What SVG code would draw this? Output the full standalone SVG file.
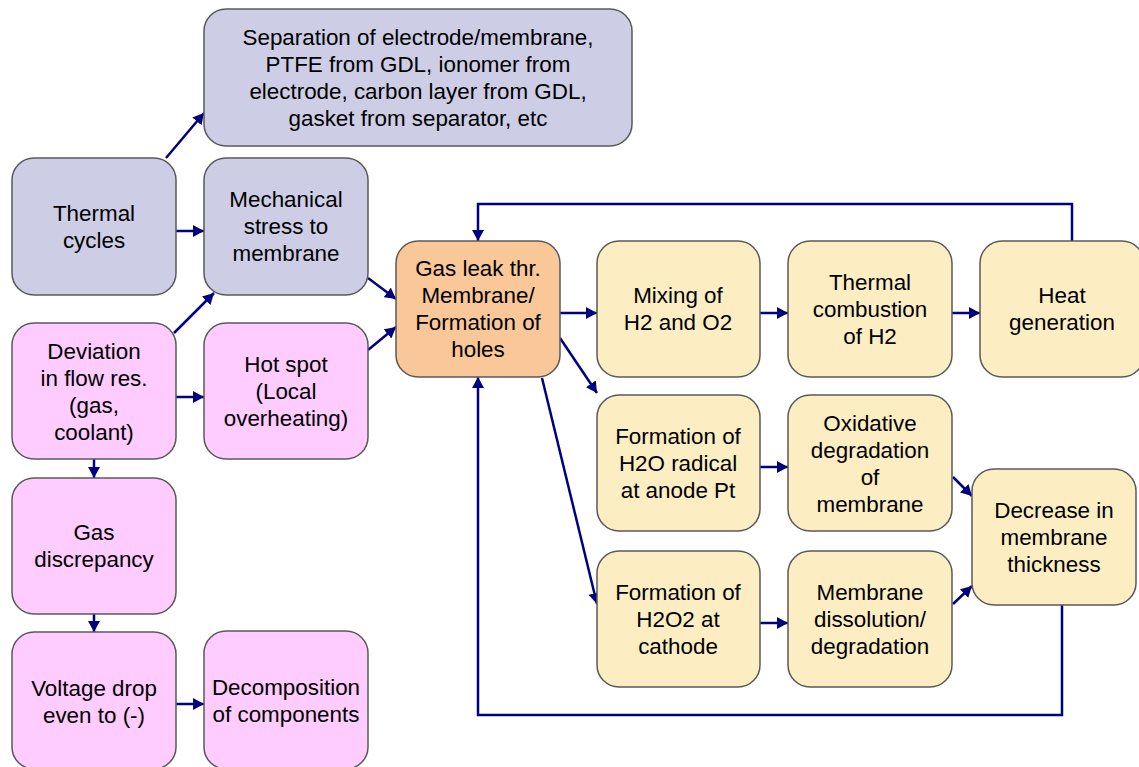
<svg xmlns="http://www.w3.org/2000/svg" width="1139" height="767" viewBox="0 0 1139 767">
<style>
.b{stroke:#5a5a5a;stroke-width:1.5}
.lav{fill:#CDCDE6}.pink{fill:#FFCCFF}.org{fill:#FAC898}.crm{fill:#FCEDC3}
text{font-family:"Liberation Sans",Arial,sans-serif;font-size:22.4px;fill:#000;text-anchor:middle}
.c{fill:none;stroke:#000080;stroke-width:2.5}
</style>
<defs>
<marker id="a" markerUnits="userSpaceOnUse" markerWidth="12" markerHeight="12" refX="11" refY="6" orient="auto"><path d="M0,0 L11,6 L0,12 z" fill="#000080"/></marker>
</defs>
<rect width="1139" height="767" fill="#fff"/>
<g id="connectors">
<path class="c" marker-end="url(#a)" d="M166,158 L204,113"/>
<path class="c" marker-end="url(#a)" d="M176,231 L204,231"/>
<path class="c" marker-end="url(#a)" d="M174,333 L214,293"/>
<path class="c" marker-end="url(#a)" d="M176,397 L204,397"/>
<path class="c" marker-end="url(#a)" d="M368,278 L396,299"/>
<path class="c" marker-end="url(#a)" d="M368,350 L396,327"/>
<path class="c" marker-end="url(#a)" d="M94,459 L94,478"/>
<path class="c" marker-end="url(#a)" d="M94,614 L94,632"/>
<path class="c" marker-end="url(#a)" d="M176,704 L204,704"/>
<path class="c" marker-end="url(#a)" d="M560,313 L597,313"/>
<path class="c" marker-end="url(#a)" d="M760,313 L788,313"/>
<path class="c" marker-end="url(#a)" d="M952,313 L980,313"/>
<path class="c" marker-end="url(#a)" d="M1072,241 L1072,204 L478,204 L478,241"/>
<path class="c" marker-end="url(#a)" d="M560,338 L597,393"/>
<path class="c" marker-end="url(#a)" d="M542,378 L597,604"/>
<path class="c" marker-end="url(#a)" d="M760,467 L788,467"/>
<path class="c" marker-end="url(#a)" d="M760,623 L788,623"/>
<path class="c" marker-end="url(#a)" d="M953,477 L972,496"/>
<path class="c" marker-end="url(#a)" d="M953,604 L972,586"/>
<path class="c" marker-end="url(#a)" d="M1062,605 L1062,715 L478,715 L478,377"/>
</g>
<g id="separation"><rect class="b lav" x="204" y="9" width="428" height="137" rx="22"/>
<text x="418" y="45">Separation of electrode/membrane,</text><text x="418" y="72">PTFE from GDL, ionomer from</text><text x="418" y="99">electrode, carbon layer from GDL,</text><text x="418" y="126">gasket from separator, etc</text></g>
<g id="thermal-cycles"><rect class="b lav" x="12" y="158" width="164" height="137" rx="22"/>
<text x="94" y="221">Thermal</text><text x="94" y="248">cycles</text></g>
<g id="mechanical"><rect class="b lav" x="204" y="158" width="164" height="137" rx="22"/>
<text x="286" y="207">Mechanical</text><text x="286" y="234">stress to</text><text x="286" y="261">membrane</text></g>
<g id="deviation"><rect class="b pink" x="12" y="323" width="164" height="136" rx="22"/>
<text x="94" y="359">Deviation</text><text x="94" y="386">in flow res.</text><text x="94" y="413">(gas,</text><text x="94" y="440">coolant)</text></g>
<g id="hotspot"><rect class="b pink" x="204" y="323" width="164" height="136" rx="22"/>
<text x="286" y="372">Hot spot</text><text x="286" y="399">(Local</text><text x="286" y="426">overheating)</text></g>
<g id="gas-discrepancy"><rect class="b pink" x="12" y="478" width="164" height="136" rx="22"/>
<text x="94" y="540">Gas</text><text x="94" y="567">discrepancy</text></g>
<g id="voltage"><rect class="b pink" x="12" y="632" width="164" height="137" rx="22"/>
<text x="94" y="696">Voltage drop</text><text x="94" y="723">even to (-)</text></g>
<g id="decomposition"><rect class="b pink" x="204" y="631" width="164" height="138" rx="22"/>
<text x="286" y="695">Decomposition</text><text x="286" y="722">of components</text></g>
<g id="gas-leak"><rect class="b org" x="396" y="241" width="164" height="136" rx="22"/>
<text x="478" y="276">Gas leak thr.</text><text x="478" y="303">Membrane/</text><text x="478" y="330">Formation of</text><text x="478" y="357">holes</text></g>
<g id="mixing"><rect class="b crm" x="597" y="241" width="163" height="136" rx="22"/>
<text x="678" y="303">Mixing of</text><text x="678" y="330">H2 and O2</text></g>
<g id="combustion"><rect class="b crm" x="788" y="241" width="164" height="136" rx="22"/>
<text x="870" y="290">Thermal</text><text x="870" y="317">combustion</text><text x="870" y="344">of H2</text></g>
<g id="heat"><rect class="b crm" x="980" y="241" width="164" height="136" rx="22"/>
<text x="1062" y="303">Heat</text><text x="1062" y="330">generation</text></g>
<g id="h2o-radical"><rect class="b crm" x="597" y="395" width="163" height="136" rx="22"/>
<text x="678" y="444">Formation of</text><text x="678" y="471">H2O radical</text><text x="678" y="498">at anode Pt</text></g>
<g id="oxidative"><rect class="b crm" x="788" y="395" width="164" height="136" rx="22"/>
<text x="870" y="431">Oxidative</text><text x="870" y="458">degradation</text><text x="870" y="485">of</text><text x="870" y="512">membrane</text></g>
<g id="h2o2"><rect class="b crm" x="597" y="551" width="163" height="136" rx="22"/>
<text x="678" y="600">Formation of</text><text x="678" y="627">H2O2 at</text><text x="678" y="654">cathode</text></g>
<g id="dissolution"><rect class="b crm" x="788" y="551" width="164" height="136" rx="22"/>
<text x="870" y="600">Membrane</text><text x="870" y="627">dissolution/</text><text x="870" y="654">degradation</text></g>
<g id="decrease"><rect class="b crm" x="972" y="469" width="164" height="136" rx="22"/>
<text x="1054" y="518">Decrease in</text><text x="1054" y="545">membrane</text><text x="1054" y="572">thickness</text></g>
</svg>
